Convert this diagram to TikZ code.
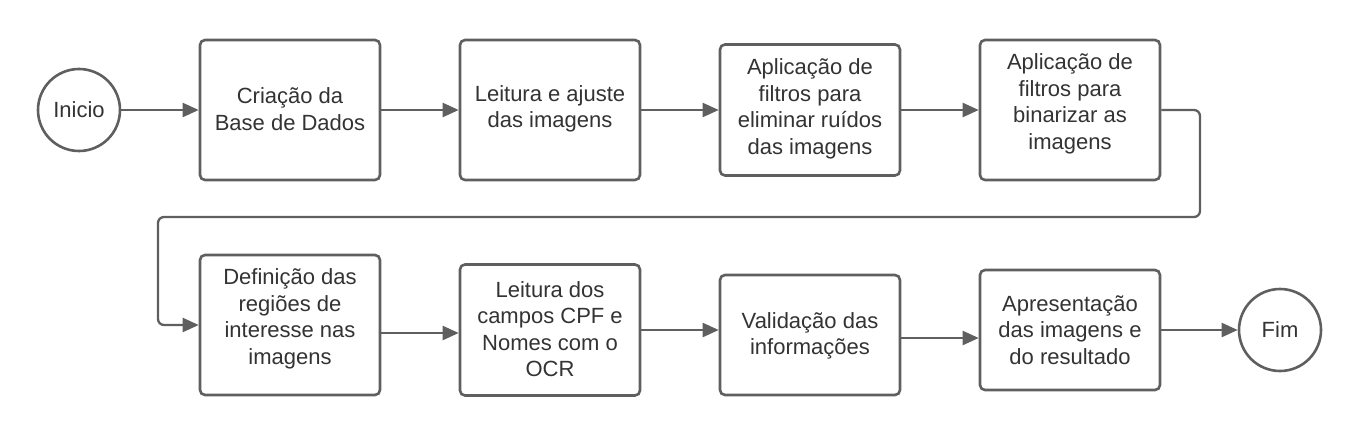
\documentclass[tikz,border=0pt]{standalone}
\usepackage{fontspec}
\setmainfont{Liberation Sans}
\usetikzlibrary{arrows.meta}
\definecolor{lc}{HTML}{5F5F5F}
\definecolor{tc}{HTML}{333333}
\begin{document}
\begin{tikzpicture}[x=1pt,y=-1pt,
  box/.style={draw=lc, line width=2.6pt, rounded corners=5pt, minimum width=180pt, inner sep=0pt, fill=white},
  txt/.style={text=tc, align=center, font=\fontsize{22}{26.5}\selectfont, inner sep=0pt},
  term/.style={circle, draw=lc, line width=2.6pt, minimum size=82pt, inner sep=0pt, fill=white, text=tc, font=\fontsize{22}{26.5}\selectfont},
  arr/.style={draw=lc, line width=2.3pt, -{Triangle[length=16pt,width=14pt]}}]
\useasboundingbox (0,0) rectangle (1360,436);

% top row
\node[term] (ini) at (79,110) {Inicio};
\node[box, minimum height=140pt] (b1) at (290,110) {};
\node[txt] (t1) at (290,109) {Criação da\\Base de Dados};
\node[box, minimum height=140pt] (b2) at (550,110) {};
\node[txt] (t2) at (550,109) {Leitura e ajuste\\das imagens};
\node[box, minimum height=131pt] (b3) at (810,110) {};
\node[txt] (t3) at (810,109) {Aplicação de\\filtros para\\eliminar ruídos\\das imagens};
\node[box, minimum height=140pt] (b4) at (1070,110) {};
\node[txt] (t4) at (1070,104) {Aplicação de\\filtros para\\binarizar as\\imagens};

% bottom row
\node[box, minimum height=140pt] (b5) at (290,325) {};
\node[txt] (t5) at (290,319) {Definição das\\regiões de\\interesse nas\\imagens};
\node[box, minimum height=131pt] (b6) at (550,330) {};
\node[txt] (t6) at (550,329) {Leitura dos\\campos CPF e\\Nomes com o\\OCR};
\node[box, minimum height=120pt] (b7) at (810,335) {};
\node[txt] (t7) at (810,336) {Validação das\\informações};
\node[box, minimum height=120pt] (b8) at (1070,330) {};
\node[txt] (t8) at (1070,330) {Apresentação\\das imagens e\\do resultado};
\node[term] (fim) at (1280,330) {Fim};

% connectors
\draw[arr] (ini.east) -- (b1.west);
\draw[arr] (b1.east) -- (b2.west);
\draw[arr] (b2.east) -- (b3.west);
\draw[arr] (b3.east) -- (b4.west);
\coordinate (c1) at (1200,217);
\coordinate (c2) at (158,217);
\draw[arr, rounded corners=6pt] (b4.east) -| (c1) -- (c2) |- (b5.west);
\draw[arr] ([yshift=-8pt]b5.east) -- ([yshift=-3pt]b6.west);
\draw[arr] (b6.east) -- ([yshift=5pt]b7.west);
\draw[arr] ([yshift=-3pt]b7.east) -- ([yshift=-8pt]b8.west);
\draw[arr] (b8.east) -- (fim.west);
\end{tikzpicture}
\end{document}
